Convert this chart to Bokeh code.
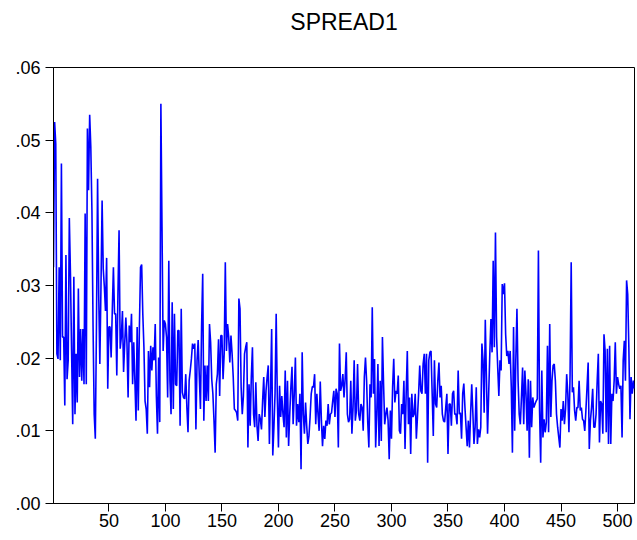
from bokeh.plotting import figure
from bokeh.models import Range1d, FixedTicker, CustomJSTickFormatter, Title
from bokeh.embed import file_html
from bokeh.resources import INLINE

title_text = "SPREAD1"
x_ticks = [50, 100, 150, 200, 250, 300, 350, 400, 450, 500]
y_ticks = [0.0, 0.01, 0.02, 0.03, 0.04, 0.05, 0.06]

spread1 = [
    .0325, .0525, .0495, .0206, .0199, .0325, .0197, .0468, .0229, .0229,
    .0135, .0342, .0171, .0197, .0393, .0316, .0210, .0109, .0312, .0123,
    .0206, .0139, .0296, .0174, .0240, .0169, .0240, .0164, .0399, .0164,
    .0516, .0431, .0535, .0491, .0403, .0243, .0123, .0089, .0243, .0447,
    .0288, .0192, .0298, .0417, .0323, .0298, .0265, .0338, .0158, .0243,
    .0243, .0201, .0265, .0325, .0261, .0261, .0176, .0288, .0376, .0213,
    .0229, .0265, .0181, .0220, .0256, .0220, .0146, .0245, .0222, .0261,
    .0164, .0222, .0169, .0114, .0243, .0128, .0243, .0325, .0329, .0261,
    .0215, .0141, .0130, .0096, .0210, .0160, .0217, .0183, .0215, .0197,
    .0247, .0148, .0096, .0201, .0112, .0550, .0380, .0210, .0252, .0247,
    .0229, .0146, .0334, .0169, .0123, .0277, .0130, .0261, .0164, .0162,
    .0238, .0238, .0107, .0268, .0153, .0146, .0144, .0178, .0132, .0098,
    .0169, .0183, .0199, .0220, .0213, .0220, .0102, .0197, .0225, .0174,
    .0130, .0243, .0316, .0114, .0190, .0141, .0190, .0141, .0247, .0222,
    .0171, .0151, .0114, .0070, .0164, .0178, .0226, .0148, .0231, .0231,
    .0171, .0206, .0332, .0210, .0247, .0229, .0194, .0231, .0206, .0174,
    .0130, .0128, .0125, .0114, .0282, .0268, .0160, .0123, .0148, .0206,
    .0215, .0222, .0077, .0164, .0107, .0174, .0215, .0123, .0105, .0167,
    .0107, .0086, .0123, .0116, .0102, .0141, .0174, .0119, .0155, .0174,
    .0190, .0082, .0155, .0240, .0066, .0105, .0151, .0261, .0146, .0077,
    .0162, .0119, .0148, .0123, .0105, .0183, .0091, .0169, .0079, .0123,
    .0160, .0188, .0109, .0151, .0201, .0107, .0137, .0112, .0151, .0047,
    .0208, .0123, .0096, .0139, .0107, .0082, .0093, .0119, .0151, .0161,
    .0160, .0178, .0109, .0151, .0123, .0100, .0168, .0114, .0079, .0107,
    .0089, .0114, .0107, .0137, .0109, .0123, .0125, .0141, .0155, .0119,
    .0158, .0151, .0077, .0220, .0155, .0162, .0178, .0146, .0171, .0208,
    .0123, .0112, .0116, .0169, .0096, .0132, .0197, .0114, .0128, .0192,
    .0123, .0114, .0137, .0132, .0100, .0174, .0201, .0169, .0112, .0077,
    .0164, .0146, .0270, .0151, .0199, .0077, .0123, .0192, .0079, .0169,
    .0086, .0229, .0164, .0109, .0123, .0132, .0114, .0061, .0128, .0089,
    .0160, .0199, .0139, .0155, .0151, .0176, .0100, .0096, .0137, .0123,
    .0169, .0075, .0151, .0210, .0109, .0146, .0068, .0151, .0119, .0123,
    .0151, .0089, .0119, .0151, .0190, .0155, .0151, .0192, .0206, .0151,
    .0206, .0056, .0197, .0208, .0210, .0151, .0093, .0197, .0137, .0132,
    .0169, .0194, .0146, .0162, .0123, .0114, .0112, .0132, .0151, .0068,
    .0137, .0137, .0107, .0151, .0155, .0123, .0123, .0109, .0183, .0123,
    .0125, .0089, .0151, .0165, .0132, .0105, .0079, .0114, .0077, .0123,
    .0164, .0125, .0082, .0105, .0160, .0082, .0102, .0091, .0105, .0220,
    .0197, .0125, .0253, .0174, .0096, .0151, .0206, .0254, .0208, .0334,
    .0215, .0373, .0229, .0187, .0148, .0197, .0183, .0302, .0288, .0303,
    .0233, .0203, .0210, .0192, .0210, .0160, .0070, .0243, .0100, .0197,
    .0268, .0169, .0123, .0109, .0146, .0187, .0109, .0183, .0151, .0100,
    .0171, .0063, .0169, .0105, .0146, .0132, .0137, .0141, .0144, .0348,
    .0128, .0056, .0183, .0091, .0116, .0098, .0112, .0217, .0098, .0247,
    .0119, .0169, .0190, .0192, .0169, .0123, .0105, .0091, .0077, .0130,
    .0114, .0141, .0109, .0130, .0178, .0151, .0098, .0178, .0332, .0153,
    .0160, .0128, .0114, .0132, .0132, .0169, .0128, .0132, .0116, .0114,
    .0100, .0128, .0160, .0194, .0075, .0114, .0132, .0158, .0105, .0105,
    .0123, .0169, .0206, .0084, .0141, .0137, .0096, .0233, .0210, .0098,
    .0213, .0082, .0217, .0082, .0151, .0141, .0169, .0222, .0151, .0174,
    .0164, .0158, .0162, .0091, .0197, .0224, .0169, .0307, .0288, .0215,
    .0116, .0174, .0151, .0169, .0158,
]
obs = list(range(1, len(spread1) + 1))

FONT = "Liberation Sans"

p = figure(width=637, height=540, output_backend="svg", toolbar_location=None,
           x_range=Range1d(1, len(spread1)), y_range=Range1d(0, 0.06),
           min_border_left=53, min_border_right=3, min_border_top=67,
           min_border_bottom=37)

p.title = Title(text=title_text, align="center", vertical_align="top",
                standoff=16, text_font=FONT, text_font_size="23px",
                text_font_style="normal", text_color="black")
# empty spacer between the title and the plot frame
p.add_layout(Title(text=" ", text_font=FONT, text_font_size="12px", standoff=7), "above")

p.line(obs, spread1, line_color="#0000FF", line_width=1.6)

p.xgrid.visible = False
p.ygrid.visible = False
p.background_fill_color = "white"
p.border_fill_color = "white"
p.outline_line_color = "black"
p.outline_line_width = 1

p.xaxis.ticker = FixedTicker(ticks=x_ticks)
p.yaxis.ticker = FixedTicker(ticks=y_ticks)
p.yaxis.formatter = CustomJSTickFormatter(code="return tick.toFixed(2).replace(/^0\\./, '.');")

for ax in (p.xaxis[0], p.yaxis[0]):
    ax.axis_line_color = "black"
    ax.major_tick_line_color = "black"
    ax.minor_tick_line_color = None
    ax.major_tick_in = 0
    ax.major_tick_out = 8
    ax.major_label_text_font = FONT
    ax.major_label_text_font_size = "18px"
    ax.major_label_text_color = "black"
p.xaxis.major_label_standoff = 2
p.yaxis.major_label_standoff = 5

open("out.html", "w").write(file_html(p, INLINE))
